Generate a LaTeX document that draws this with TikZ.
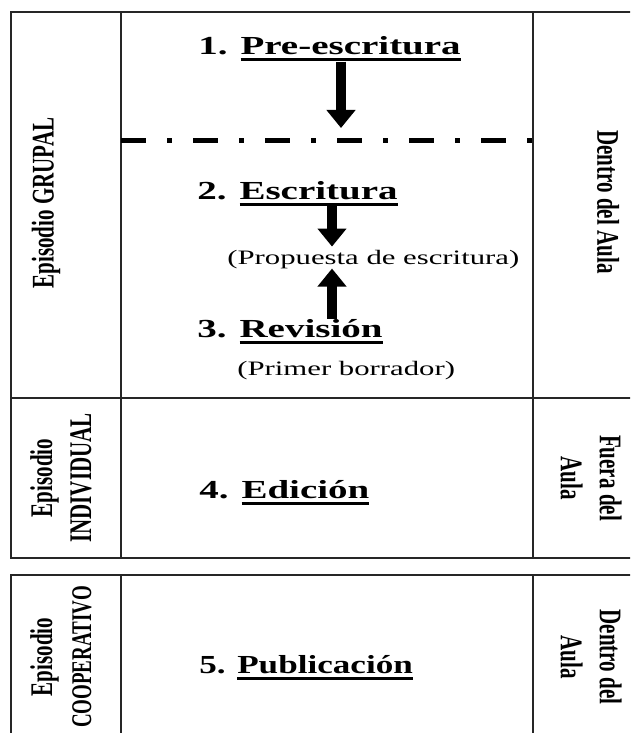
\documentclass[tikz,border=0pt]{standalone}
\usepackage{fontspec}
\setmainfont{Liberation Serif}
\usetikzlibrary{arrows.meta}

\newcommand{\ulword}[1]{\setbox0=\hbox{#1}\rlap{\rule[-6.5pt]{\wd0}{3pt}}\box0}

\begin{document}
\begin{tikzpicture}[x=1pt,y=-1pt,->,>={Triangle[width=28pt,length=18pt]},
  stage/.style={anchor=base west,inner sep=0pt,xscale=1.5,font=\fontsize{26}{30}\selectfont\bfseries},
  note/.style={anchor=base west,inner sep=0pt,xscale=1.5,font=\fontsize{20.5}{24}\selectfont},
  upside/.style={rotate=90,yscale=1.5,align=center,font=\fontsize{21}{26}\selectfont\bfseries},
  downside/.style={rotate=-90,yscale=1.5,align=center,font=\fontsize{21}{26}\selectfont\bfseries},
  frame/.style={-,draw=black!85,line width=1.6pt}]

\path[use as bounding box,clip] (0,0) rectangle (630,733);

%table
\draw[frame] (640,12) -- (11,12) -- (11,558) -- (640,558);
\draw[frame] (11,398) -- (640,398);
\draw[frame] (640,575) -- (11,575) -- (11,740);
\foreach \x in {121,533} {
  \draw[frame] (\x,12) -- (\x,558);
  \draw[frame] (\x,575) -- (\x,740);
}
\draw[-,line width=5pt,dash pattern=on 25pt off 21pt on 5pt off 21pt] (121,140) -- (533,140);

\node[stage] (pre) at (198,55) {1. \ulword{Pre-escritura}};
\node[stage] (esc) at (197,199) {2. \ulword{Escritura}};
\node[note] (prop) at (227,264) {(Propuesta de escritura)};
\node[stage] (rev) at (197,337) {3. \ulword{Revisión}};
\node[note] (borr) at (237,375) {(Primer borrador)};
\node[stage] (edi) at (199,498) {4. \ulword{Edición}};
\node[stage,xscale=0.9] (pub) at (199,673) {5. \ulword{Publicación}};

\node[upside] (grupal) at (46,203) {Episodio GRUPAL};
\node[downside] (aula1) at (608,202) {Dentro del Aula};
\node[upside] (indiv) at (61,478) {Episodio\\INDIVIDUAL};
\node[downside] (aula2) at (591,478) {Fuera del\\Aula};
\node[upside] (coop) at (61,657) {Episodio\\{\fontsize{19}{26}\selectfont COOPERATIVO}};
\node[downside] (aula3) at (591,657) {Dentro del\\Aula};

%arrows
\coordinate (cut) at (341,128);
\coordinate (axis) at (332,0);
\draw[line width=10pt] (pre.south -| cut) -- (cut);
\draw[line width=10pt,shorten >=3pt] (esc.south -| axis) -- (prop.north -| axis);
\draw[line width=10pt] (rev.north -| axis) -- (prop.south -| axis);

\end{tikzpicture}
\end{document}
